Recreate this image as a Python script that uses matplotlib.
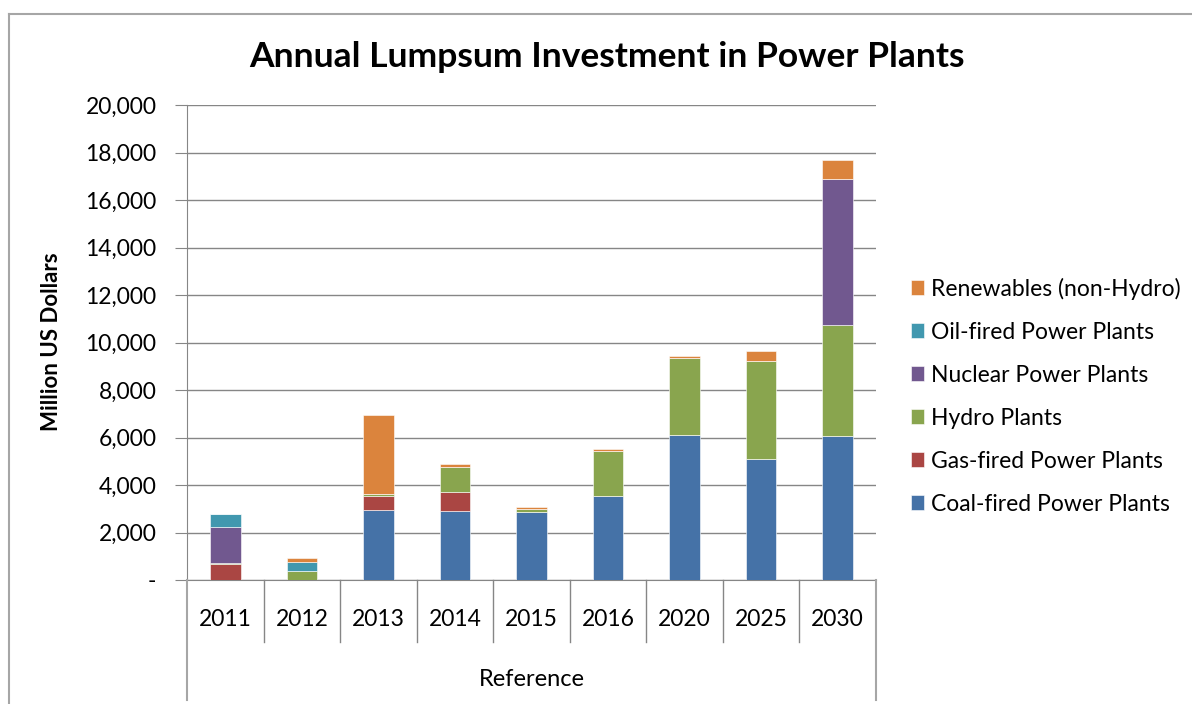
#!/usr/bin/env python3
"""
Annual lumpsum investment in power plants - stacked column chart
"""

import matplotlib.pyplot as plt
from matplotlib.lines import Line2D
from matplotlib.ticker import FuncFormatter
import numpy as np

plt.rcParams['font.family'] = ['Lato', 'DejaVu Sans']

years = ['2011', '2012', '2013', '2014', '2015', '2016', '2020', '2025', '2030']

# Million US dollars
coal = [0, 0, 2960, 2890, 2860, 3520, 6120, 5080, 6080]
gas = [680, 0, 560, 800, 0, 0, 0, 0, 0]
hydro = [40, 380, 110, 1050, 125, 1920, 3240, 4130, 4670]
nuclear = [1500, 0, 0, 0, 0, 0, 0, 0, 6150]
oil = [580, 390, 0, 0, 0, 0, 0, 0, 0]
renewables = [0, 170, 3300, 130, 85, 60, 70, 430, 800]

series_names = ['Coal-fired Power Plants', 'Gas-fired Power Plants', 'Hydro Plants',
                'Nuclear Power Plants', 'Oil-fired Power Plants', 'Renewables (non-Hydro)']
series_values = [coal, gas, hydro, nuclear, oil, renewables]
colors = ['#4572A7', '#AA4643', '#89A54E', '#71588F', '#4198AF', '#DB843D']

W, H = 1192, 704
fig = plt.figure(figsize=(W / 100, H / 100), dpi=100)

# plot area in pixel coords
left, right, top, bottom = 187, 876, 105, 580
ax = fig.add_axes([left / W, 1 - bottom / H, (right - left) / W, (bottom - top) / H])

x = np.arange(len(years))
base = np.zeros(len(years))
handles = []
for name, vals, c in zip(series_names, series_values, colors):
    b = ax.bar(x, vals, 0.4, bottom=base, color=c, edgecolor='white',
               linewidth=0.4, label=name, zorder=3)
    handles.append(b)
    base += np.array(vals)

ax.set_xlim(-0.5, len(years) - 0.5)
ax.set_ylim(0, 20000)
ax.set_yticks(np.arange(0, 20001, 2000))
ax.yaxis.set_major_formatter(FuncFormatter(lambda v, p: '-' if v == 0 else f'{int(v):,}'))
ax.tick_params(axis='y', labelsize=16.5, length=9, color='#868686', pad=13)
ax.grid(axis='y', color='#868686', linewidth=1, zorder=0)
ax.set_xticks([])

for side in ['top', 'right']:
    ax.spines[side].set_visible(False)
ax.spines['left'].set_color('#868686')
ax.spines['bottom'].set_color('#868686')

def px(xp, yp):
    return xp / W, 1 - yp / H

fig.text(*px(52, 342), 'Million US Dollars', rotation=90, ha='center', va='center',
         fontsize=16, fontweight='bold')

# category axis: dividers and labels below the plot
slot = (right - left) / len(years)
for i in range(1, len(years)):
    xp = left + i * slot
    fig.add_artist(Line2D([xp / W] * 2, [1 - bottom / H, 1 - 642 / H], color='#868686', lw=1))
for xp in (left, right):
    fig.add_artist(Line2D([xp / W] * 2, [1 - bottom / H, 1 - 700 / H], color='#A6A6A6', lw=1.5))
for i, yr in enumerate(years):
    fig.text(*px(left + (i + 0.5) * slot, 620), yr, ha='center', va='center', fontsize=16.5)
fig.text(*px((left + right) / 2, 680), 'Reference', ha='center', va='center', fontsize=17)

fig.text(*px(607, 57), 'Annual Lumpsum Investment in Power Plants',
         ha='center', va='center', fontsize=25.5, fontweight='bold')

leg = fig.legend(handles[::-1], series_names[::-1], loc='center left',
                 bbox_to_anchor=(890 / W, 1 - 396 / H), frameon=False, fontsize=16.5,
                 handlelength=0.6, handleheight=0.6, handletextpad=0.3,
                 labelspacing=0.96)

# outer chart border
fig.add_artist(Line2D([9 / W, 1], [1 - 14 / H] * 2, color='#A6A6A6', lw=1.5))
fig.add_artist(Line2D([9 / W] * 2, [0, 1 - 14 / H], color='#A6A6A6', lw=1.5))

plt.savefig('out.png', dpi=100)
